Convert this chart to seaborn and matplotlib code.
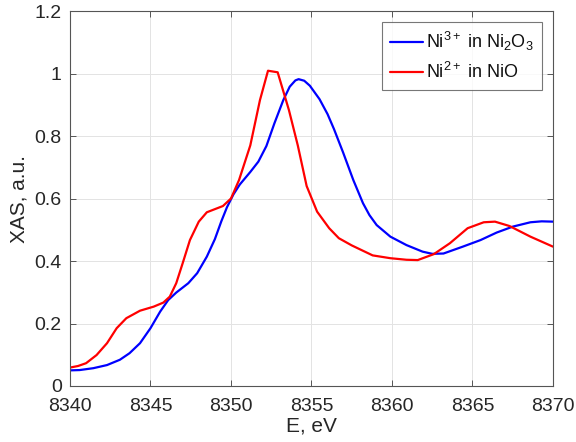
import numpy as np
import pandas as pd
import matplotlib
matplotlib.use("Agg")
import matplotlib.pyplot as plt
from matplotlib.ticker import FuncFormatter
import seaborn as sns

# Ni K-edge XAS spectra
energy_ni2o3 = [8340.0, 8340.6, 8341.45, 8342.3, 8343.1, 8343.7, 8344.35, 8345.0,
                8345.6, 8346.1, 8346.6, 8347.35, 8347.9, 8348.5, 8349.0, 8349.4,
                8349.75, 8350.15, 8350.55, 8351.2, 8351.7, 8352.2, 8352.7, 8353.25,
                8353.65, 8354.0, 8354.2, 8354.55, 8354.9, 8355.5, 8356.0, 8356.4,
                8356.96, 8357.6, 8358.2, 8358.6, 8359.05, 8359.9, 8360.9, 8361.9,
                8362.5, 8363.2, 8364.4, 8365.5, 8366.5, 8367.5, 8368.6, 8369.3,
                8370.0]
xas_ni2o3 = [0.050, 0.051, 0.057, 0.067, 0.084, 0.105, 0.137, 0.185,
             0.238, 0.275, 0.299, 0.329, 0.361, 0.414, 0.470, 0.527,
             0.572, 0.613, 0.645, 0.685, 0.718, 0.768, 0.841, 0.915,
             0.958, 0.978, 0.982, 0.977, 0.961, 0.918, 0.870, 0.822,
             0.748, 0.659, 0.585, 0.547, 0.515, 0.478, 0.451, 0.430,
             0.423, 0.424, 0.446, 0.467, 0.491, 0.510, 0.524, 0.527,
             0.526]

energy_nio = [8340.0, 8340.5, 8341.0, 8341.65, 8342.3, 8342.9, 8343.5, 8344.35,
              8345.2, 8345.8, 8346.2, 8346.6, 8347.0, 8347.45, 8348.0, 8348.5,
              8349.5, 8350.0, 8350.5, 8351.2, 8351.8, 8352.3, 8352.9, 8353.6,
              8354.15, 8354.7, 8355.35, 8356.1, 8356.7, 8357.5, 8358.8, 8359.9,
              8360.9, 8361.6, 8362.6, 8363.6, 8364.7, 8365.7, 8366.4, 8367.3,
              8368.6, 8370.0]
xas_nio = [0.059, 0.064, 0.073, 0.099, 0.137, 0.185, 0.217, 0.241,
           0.254, 0.267, 0.286, 0.329, 0.393, 0.467, 0.526, 0.556,
           0.576, 0.600, 0.659, 0.770, 0.915, 1.009, 1.004, 0.883,
           0.770, 0.640, 0.558, 0.505, 0.473, 0.450, 0.418, 0.409,
           0.404, 0.403, 0.422, 0.457, 0.505, 0.524, 0.526, 0.512,
           0.478, 0.446]

labels = [r"Ni$^{3+}$ in Ni$_2$O$_3$", r"Ni$^{2+}$ in NiO"]
colors = ["#0000ff", "#ff0000"]
x_ticks = [8340, 8345, 8350, 8355, 8360, 8365, 8370]
y_ticks = [0, 0.2, 0.4, 0.6, 0.8, 1.0, 1.2]

df = pd.concat([
    pd.DataFrame({"E": energy_ni2o3, "XAS": xas_ni2o3, "sample": labels[0]}),
    pd.DataFrame({"E": energy_nio, "XAS": xas_nio, "sample": labels[1]}),
], ignore_index=True)

sns.set_theme(style="white")
plt.rcParams["font.family"] = ["Liberation Sans", "DejaVu Sans"]
plt.rcParams["mathtext.fontset"] = "custom"
plt.rcParams["mathtext.rm"] = "Liberation Sans"
plt.rcParams["mathtext.it"] = "Liberation Sans"

fig = plt.figure(figsize=(5.76, 4.42), dpi=100)
ax = fig.add_axes([0.1215, 0.1267, 0.8385, 0.8483])

sns.lineplot(data=df, x="E", y="XAS", hue="sample", palette=colors,
             estimator=None, sort=False, linewidth=1.6, ax=ax)

ax.set_xlim(8340, 8370)
ax.set_ylim(0, 1.2)
ax.set_xticks(x_ticks)
ax.set_yticks(y_ticks)
ax.yaxis.set_major_formatter(FuncFormatter(lambda v, p: f"{v:g}"))
ax.grid(True, color="#e3e3e3", linewidth=0.7)
ax.set_axisbelow(True)

for s in ax.spines.values():
    s.set_visible(True)
    s.set_color("#555555")
    s.set_linewidth(0.8)

ax.tick_params(axis="both", direction="in", length=4, width=0.7, color="#555555",
               labelsize=14, labelcolor="#262626", top=True, right=True,
               bottom=True, left=True)
ax.tick_params(axis="x", pad=9)
ax.tick_params(axis="y", pad=6)

ax.set_xlabel("E, eV", fontsize=15, color="#262626", labelpad=1)
ax.set_ylabel("XAS, a.u.", fontsize=15, color="#262626", labelpad=4)

leg = ax.legend(loc="upper right", fontsize=13, frameon=True, fancybox=False,
                handlelength=1.8, handletextpad=0.2, borderpad=0.45,
                labelspacing=0.5, borderaxespad=0.6)
leg.get_frame().set_edgecolor("#555555")
leg.get_frame().set_linewidth(0.8)
for t in leg.get_texts():
    t.set_color("#111111")

fig.savefig("out.png", dpi=100)
